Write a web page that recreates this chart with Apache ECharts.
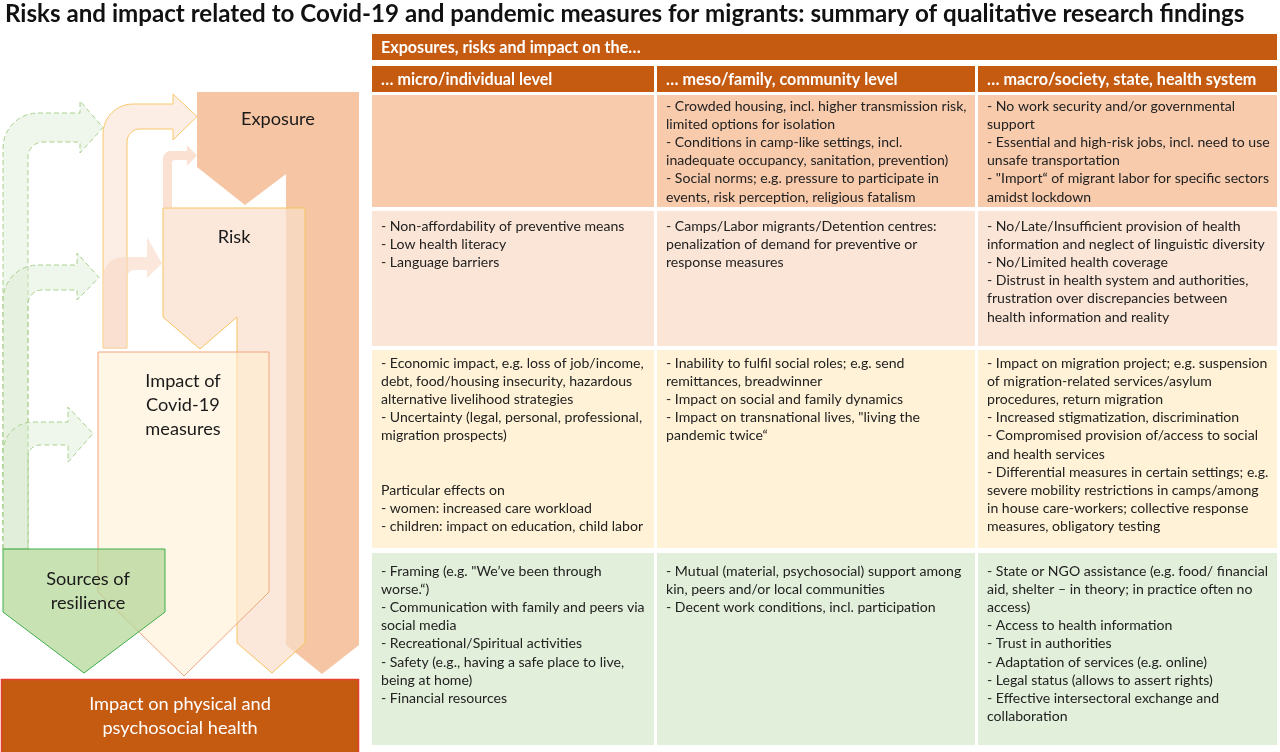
<!DOCTYPE html>
<html><head><meta charset="utf-8">
<script src="https://cdn.jsdelivr.net/npm/echarts@6/dist/echarts.min.js"></script>
<style>html,body{margin:0;padding:0;background:#fff;overflow:hidden}#c{width:1280px;height:752px}</style>
</head><body><div id="c"></div>
<script>
// ---------- content ----------
const chartTitle = "Risks and impact related to Covid-19 and pandemic measures for migrants: summary of qualitative research findings";
const tableHeader = "Exposures, risks and impact on the…";
const levels = ["… micro/individual level", "… meso/family, community level", "… macro/society, state, health system"];
const stageLabels = ["Exposure", "Risk", "Impact of\nCovid-19\nmeasures", "Sources of\nresilience"];
const outcomeLabel = "Impact on physical and\npsychosocial health";

const exposureRow = [
  [],
  ["- Crowded housing, incl. higher transmission risk,", "limited options for isolation", "- Conditions in camp-like settings, incl.", "inadequate occupancy, sanitation, prevention)", "- Social norms; e.g. pressure to participate in", "events, risk perception, religious fatalism"],
  ["- No work security and/or governmental", "support", "- Essential and high-risk jobs, incl. need to use", "unsafe transportation", "- \"Import“ of migrant labor for specific sectors", "amidst lockdown"]
];
const riskRow = [
  ["- Non-affordability of preventive means", "- Low health literacy", "- Language barriers"],
  ["- Camps/Labor migrants/Detention centres:", "penalization of demand for preventive or", "response measures"],
  ["- No/Late/Insufficient provision of health", "information and neglect of linguistic diversity", "- No/Limited health coverage", "- Distrust in health system and authorities,", "frustration over discrepancies between", "health information and reality"]
];
const impactRow = [
  ["- Economic impact, e.g. loss of job/income,", "debt, food/housing insecurity, hazardous", "alternative livelihood strategies", "- Uncertainty (legal, personal, professional,", "migration prospects)", "", "", "Particular effects on", "- women: increased care workload", "- children: impact on education, child labor"],
  ["- Inability to fulfil social roles; e.g. send", "remittances, breadwinner", "- Impact on social and family dynamics", "- Impact on transnational lives, \"living the", "pandemic twice“"],
  ["- Impact on migration project; e.g. suspension", "of migration-related services/asylum", "procedures, return migration", "- Increased stigmatization, discrimination", "- Compromised provision of/access to social", "and health services", "- Differential measures in certain settings; e.g.", "severe mobility restrictions in camps/among", "in house care-workers; collective response", "measures, obligatory testing"]
];
const resilienceRow = [
  ["- Framing (e.g. \"We’ve been through", "worse.“)", "- Communication with family and peers via", "social media", "- Recreational/Spiritual activities", "- Safety (e.g., having a safe place to live,", "being at home)", "- Financial resources"],
  ["- Mutual (material, psychosocial) support among", "kin, peers and/or local communities", "- Decent work conditions, incl. participation"],
  ["- State or NGO assistance (e.g. food/ financial", "aid, shelter – in theory; in practice often no", "access)", "- Access to health information", "- Trust in authorities", "- Adaptation of services (e.g. online)", "- Legal status (allows to assert rights)", "- Effective intersectoral exchange and", "collaboration"]
];
const tableRows = [exposureRow, riskRow, impactRow, resilienceRow];

// ---------- layout & style ----------
const FAM = 'Lato, "Open Sans", sans-serif';
const ctx = document.createElement('canvas').getContext('2d');
function fit(text, weight, target) { ctx.font = weight + ' 100px ' + FAM; return 100 * target / ctx.measureText(text).width; }

const titleSize = fit(chartTitle, 'bold', 1240);
const bodySize = (fit("- Mutual (material, psychosocial) support among", 'normal', 296) + fit("- Crowded housing, incl. higher transmission risk,", 'normal', 300)) / 2;
const headSize = fit(tableHeader, 'bold', 260);
const levelSize = (fit(levels[0], 'bold', 173) + fit(levels[1], 'bold', 232) + fit(levels[2], 'bold', 267)) / 3;
const labelSize = fit("Exposure", 'normal', 74);

const cols = [[372, 654], [657, 975], [978, 1277]];
const rowsY = [[95, 207], [211, 346], [350, 548], [553, 745]];
const rowColors = ['#F8CBAD', '#FBE5D6', '#FFF2D6', '#E2EFDA'];
const textTop = [97, 217, 354, 562];
const LH = 18.2;
const DARK = '#C55A11';

const g = [];
function text(x, y, str, size, opts) {
  opts = opts || {};
  g.push({
    type: 'text', x: x, y: y, z: opts.z || 50,
    style: {
      text: str, fill: opts.fill || '#1a1a1a',
      font: (opts.weight || 'normal') + ' ' + size.toFixed(2) + 'px ' + FAM,
      align: opts.align || 'left', verticalAlign: opts.valign || 'middle',
      textAlign: opts.align || 'left', textVerticalAlign: opts.valign || 'middle',
      lineHeight: opts.lh || size * 1.3
    }
  });
}
function rect(x0, y0, x1, y1, fill, z) {
  g.push({ type: 'rect', z: z || 10, shape: { x: x0, y: y0, width: x1 - x0, height: y1 - y0 }, style: { fill: fill } });
}
function poly(pts, style, z) { g.push({ type: 'polygon', z: z, shape: { points: pts }, style: style }); }
// quarter-circle corner samples (center cx,cy, radius r) from angle a0 to a1
function arc(cx, cy, r, a0, a1) {
  const out = [], n = 10;
  for (let i = 0; i <= n; i++) { const a = a0 + (a1 - a0) * i / n; out.push([cx + r * Math.cos(a), cy + r * Math.sin(a)]); }
  return out;
}
function bent(a, style, z) {
  const P = Math.PI;
  let pts = [[a.x0, a.yB]];
  pts = pts.concat(arc(a.x0 + a.rO, a.yOT + a.rO, a.rO, P, 1.5 * P));
  pts.push([a.hx, a.yOT], [a.hx, a.hT], [a.tip, (a.yOT + a.yIT) / 2], [a.hx, a.hB], [a.hx, a.yIT]);
  pts = pts.concat(arc(a.x1 + a.rI, a.yIT + a.rI, a.rI, 1.5 * P, P));
  pts.push([a.x1, a.yB]);
  poly(pts, style, z);
}

// title
text(5, 14, chartTitle, titleSize, { weight: 'bold', fill: '#111' });

// table header
rect(372, 34, 1277, 60, DARK);
text(381, 47.5, tableHeader, headSize, { weight: 'bold', fill: '#fff' });
levels.forEach((l, i) => {
  rect(cols[i][0], 66, cols[i][1], 92, DARK);
  text(cols[i][0] + 9, 79.5, l, levelSize, { weight: 'bold', fill: '#fff' });
});
// table body
tableRows.forEach((row, r) => {
  row.forEach((lines, c) => {
    rect(cols[c][0], rowsY[r][0], cols[c][1], rowsY[r][1], rowColors[r]);
    if (lines.length) text(cols[c][0] + 9, textTop[r], lines.join('\n'), bodySize, { valign: 'top', lh: LH, fill: '#222' });
  });
});

// ---------- left diagram ----------
// exposure
poly([[197, 92], [359, 92], [359, 645], [322, 674], [286, 645], [286, 174], [245, 205], [197, 167]],
  { fill: '#F6C5A4' }, 20);
// risk
poly([[163, 208], [305, 208], [305, 643], [272, 673], [237, 643], [237, 317], [200, 349], [163, 317]],
  { fill: 'rgba(250,222,203,0.7)', stroke: '#F6C35E', lineWidth: 1 }, 21);
// peach arrows
bent({ x0: 163, x1: 172, yB: 208, yOT: 151, yIT: 160, rO: 8, rI: 3, hx: 187, hT: 145, hB: 166, tip: 197 },
  { fill: 'rgba(247,205,180,0.6)' }, 22);
bent({ x0: 103, x1: 127, yB: 348, yOT: 104, yIT: 129, rO: 30, rI: 13, hx: 173, hT: 94, hB: 140, tip: 197 },
  { fill: 'rgba(250,224,208,0.55)', stroke: '#F8C86A', lineWidth: 1 }, 23);
bent({ x0: 103, x1: 127, yB: 349, yOT: 257, yIT: 270, rO: 20, rI: 8, hx: 147, hT: 237, hB: 278, tip: 162 },
  { fill: 'rgba(248,215,195,0.6)' }, 24);
// impact
poly([[98, 352], [269, 352], [269, 592], [184, 676], [98, 592]],
  { fill: 'rgba(255,238,205,0.5)', stroke: '#F2A57E', lineWidth: 1 }, 25);
// green dashed arrows
const greenStyle = { fill: 'rgba(220,236,210,0.45)', stroke: '#A9D18E', lineWidth: 1, lineDash: [5, 3] };
bent({ x0: 3, x1: 28, yB: 549, yOT: 113, yIT: 142, rO: 35, rI: 15, hx: 80, hT: 101, hB: 153, tip: 103 }, greenStyle, 26);
bent({ x0: 3, x1: 28, yB: 549, yOT: 265, yIT: 290, rO: 35, rI: 14, hx: 77, hT: 253, hB: 300, tip: 99 }, greenStyle, 27);
bent({ x0: 3, x1: 28, yB: 549, yOT: 422, yIT: 445, rO: 30, rI: 12, hx: 68, hT: 407, hB: 462, tip: 93 }, greenStyle, 28);
// sources of resilience
poly([[3, 549], [165, 549], [165, 612], [84, 673], [3, 612]],
  { fill: 'rgba(176,214,148,0.7)', stroke: '#3FAE4B', lineWidth: 1 }, 29);
// outcome box
g.push({ type: 'rect', z: 30, shape: { x: 1.5, y: 679.5, width: 357, height: 80 }, style: { fill: DARK, stroke: '#E3412E', lineWidth: 1.5 } });

// labels
text(278, 119, stageLabels[0], labelSize, { align: 'center' });
text(234, 237, stageLabels[1], labelSize, { align: 'center' });
text(183, 405, stageLabels[2], labelSize, { align: 'center', lh: 24 });
text(88, 591, stageLabels[3], labelSize, { align: 'center', lh: 24 });
text(180, 716, outcomeLabel, labelSize, { align: 'center', lh: 24, fill: '#fff' });

const chart = echarts.init(document.getElementById('c'), null, { renderer: 'canvas' });
chart.setOption({ backgroundColor: '#fff', animation: false, graphic: { elements: g } });
</script>
</body></html>
